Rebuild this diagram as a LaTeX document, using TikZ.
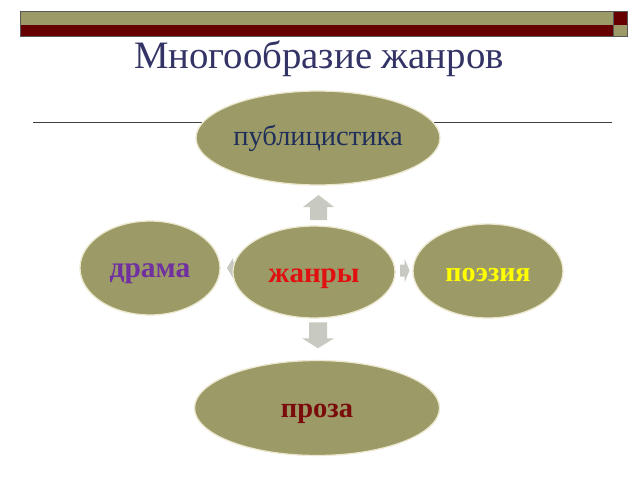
\documentclass[tikz,border=0pt]{standalone}
\usepackage{fontspec}
\setmainfont{Liberation Serif}
\usetikzlibrary{shapes.geometric,calc,backgrounds}
\definecolor{olive}{HTML}{9C9B68}
\definecolor{barred}{HTML}{660000}
\definecolor{rim}{HTML}{ECE8D0}
\definecolor{titleblue}{HTML}{333366}
\definecolor{navy}{HTML}{1F2F5A}
\definecolor{jred}{HTML}{E01010}
\definecolor{purp}{HTML}{7030A0}
\definecolor{yel}{HTML}{FFFF00}
\definecolor{drd}{HTML}{7A0C0C}
\definecolor{arrgray}{HTML}{C8C9C0}
\tikzset{
  genre/.style={ellipse, fill=olive, draw=rim, line width=1.3pt, inner sep=0pt, text depth=0pt},
  blockarrow/.style={fill=arrgray, draw=none},
}
\begin{document}
\begin{tikzpicture}[x=1pt,y=-1pt]
\useasboundingbox (0,0) rectangle (640,480);
% top bars
\fill[olive] (20,11) rectangle (613,25);
\fill[barred] (20,25) rectangle (613,36);
\fill[barred] (613,11) rectangle (627,25);
\fill[olive] (613,25) rectangle (627,36);
\draw[gray!70!black, line width=0.6pt] (20,11) rectangle (627,36);
\draw[gray!70!black, line width=0.6pt] (613,11) -- (613,36);
% title
\node[text=titleblue, font=\fontsize{38.8}{40}\selectfont, anchor=base] (title) at (319,68) {Многообразие жанров};
% rule
\draw[black!75, line width=0.8pt] (33,122) -- (612,122);
% ellipses
\node[genre, minimum width=244pt, minimum height=94pt, text height=14pt] (pub) at (318,138)
  {\textcolor{navy}{\fontsize{28.5}{30}\selectfont публицистика}};
\node[genre, minimum width=162pt, minimum height=92pt, text height=20pt] (zh) at (314,272)
  {\textcolor{jred}{\bfseries\fontsize{29}{32}\selectfont жанры}};
\node[genre, minimum width=140pt, minimum height=94pt, text height=18pt] (dr) at (150,268)
  {\textcolor{purp}{\bfseries\fontsize{29.5}{30}\selectfont драма}};
\node[genre, minimum width=150pt, minimum height=94pt, text height=20pt] (po) at (488,271)
  {\textcolor{yel}{\bfseries\fontsize{28}{30}\selectfont поэзия}};
\node[genre, minimum width=245pt, minimum height=95pt, text height=18pt] (pr) at (317,408)
  {\textcolor{drd}{\bfseries\fontsize{28.5}{30}\selectfont проза}};
% block arrows
\coordinate (au) at ($(pub.south)!0.5!(zh.north)+(2.5,2)$);
\coordinate (ad) at ($(zh.south)!0.5!(pr.north)+(2.5,-4)$);
\coordinate (al) at ($(dr.east)!0.5!(zh.west)+(5.5,-2)$);
\coordinate (ar) at ($(zh.east)!0.5!(po.west)+(0.5,-1)$);
\begin{scope}[on background layer]
\fill[blockarrow, shift={(au)}] (0,-12.5) -- (15.5,-0.5) -- (8.5,-0.5) -- (8.5,12.5)
  -- (-8.5,12.5) -- (-8.5,-0.5) -- (-15.5,-0.5) -- cycle;
\fill[blockarrow, shift={(ad)}] (0,13) -- (16,3) -- (9,3) -- (9,-13)
  -- (-9,-13) -- (-9,3) -- (-16,3) -- cycle;
\fill[blockarrow, shift={(al)}] (-5,0) -- (1,-10) -- (1,-6.5) -- (5,-6.5)
  -- (5,6.5) -- (1,6.5) -- (1,10) -- cycle;
\fill[blockarrow, shift={(ar)}] (5,0) -- (0,-12) -- (0,-6) -- (-4.5,-6)
  -- (-4.5,6) -- (0,6) -- (0,12) -- cycle;
\end{scope}
\end{tikzpicture}
\end{document}
